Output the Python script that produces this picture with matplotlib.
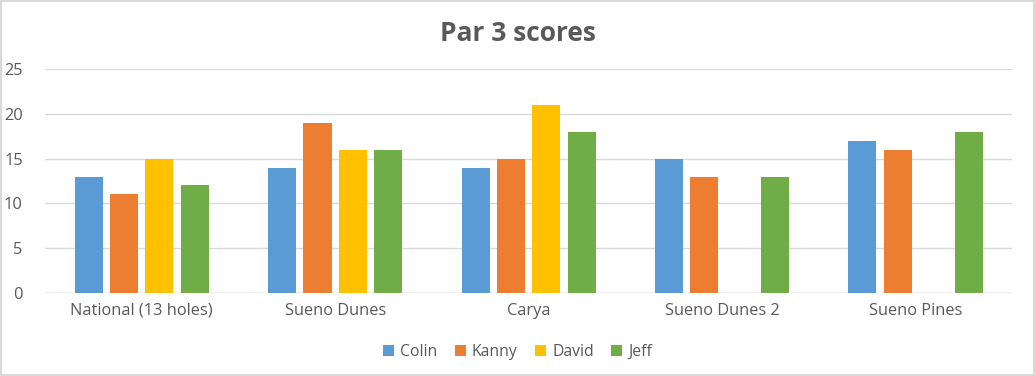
import matplotlib.pyplot as plt
import numpy as np

courses = ['National (13 holes)', 'Sueno Dunes', 'Carya', 'Sueno Dunes 2', 'Sueno Pines']
players = ['Colin', 'Kanny', 'David', 'Jeff']
colin = [13, 14, 14, 15, 17]
kanny = [11, 19, 15, 13, 16]
david = [15, 16, 21, np.nan, np.nan]
jeff = [12, 16, 18, 13, 18]
colors = ['#5B9BD5', '#ED7D31', '#FFC000', '#70AD47']

plt.rcParams['font.family'] = ['Open Sans', 'DejaVu Sans']
txt = '#595959'

fig = plt.figure(figsize=(10.35, 3.76), dpi=100)
ax = fig.add_axes([0.0435, 0.2207, 0.9345, 0.5958])

x = np.arange(len(courses))
w = 0.145
step = 0.183
series = [colin, kanny, david, jeff]
for i, vals in enumerate(series):
    ax.bar(x + (i - 1.5) * step, vals, w, color=colors[i], label=players[i], zorder=3)

ax.set_xlim(-0.5, len(courses) - 0.5)
ax.set_ylim(0, 25)
ax.set_yticks(range(0, 26, 5))
ax.set_xticks(x)
ax.set_xticklabels(courses)
ax.tick_params(length=0, labelsize=11.8, colors=txt)
ax.tick_params(axis='y', pad=16)
ax.tick_params(axis='x', pad=7)
ax.grid(axis='y', color='#D9D9D9', linewidth=1, zorder=0)
for s in ax.spines.values():
    s.set_visible(False)
ax.axhline(0, color='#D9D9D9', linewidth=1, zorder=2)

fig.text(0.5, 0.912, 'Par 3 scores', ha='center', va='center', fontsize=19,
         fontweight='bold', color=txt)

fig.legend(loc='center', bbox_to_anchor=(0.5, 0.064), ncol=4, frameon=False,
           fontsize=11.3, labelcolor=txt, handlelength=0.7, handleheight=0.7,
           handletextpad=0.4, columnspacing=1.1)

fig.patches.append(plt.Rectangle((0.001, 0.002), 0.998, 0.996, transform=fig.transFigure,
                                 fill=False, edgecolor='#D9D9D9', linewidth=1.5))

fig.savefig('out.png', dpi=100)
